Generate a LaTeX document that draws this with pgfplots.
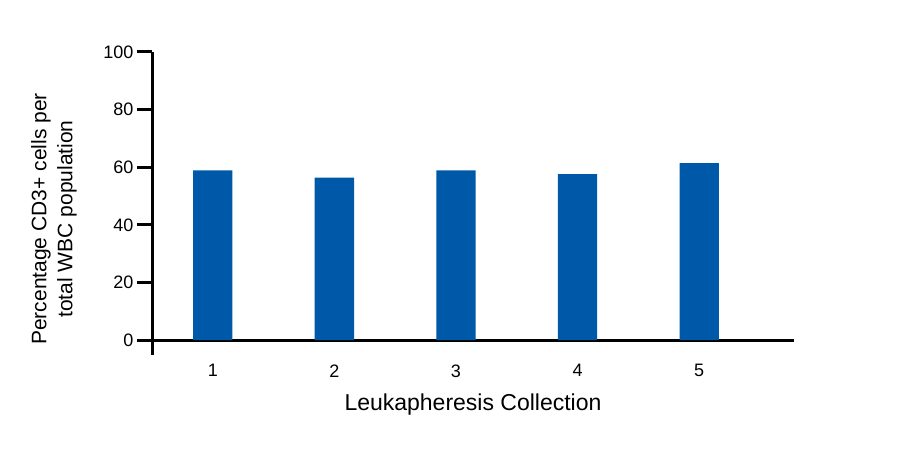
\documentclass[border=0pt]{standalone}
\usepackage{fontspec}
\setmainfont{Liberation Sans}
\usepackage{pgfplots}
\pgfplotsset{compat=1.18}
\definecolor{barblue}{HTML}{0059A8}
\begin{document}
\begin{tikzpicture}
\path[use as bounding box] (0,0) rectangle (900pt,450pt);
\begin{axis}[
  at={(152pt,95pt)}, anchor=south west,
  scale only axis, width=642pt, height=303pt,
  xmin=0.5, xmax=5.78, ymin=-5.2, ymax=100,
  axis x line=middle, axis y line=left,
  axis line style={line width=3pt, -, black},
  xtick={1,2,3,4,5}, ytick={0,20,...,100},
  x tick style={draw=none},
  y tick style={line width=3pt, black},
  major tick length=15pt,
  ytick align=outside,
  xtick align=outside,
  /pgf/number format/assume math mode=true,
  ticklabel style={font=\fontsize{18}{21}\selectfont},
  xticklabel style={yshift=-6pt},
  xlabel={Leukapheresis Collection},
  xlabel style={font=\fontsize{23}{27}\selectfont, at={(axis description cs:0.5,0)}, anchor=center, yshift=-50pt},
  ylabel={Percentage CD3+ cells per\\total WBC population},
  ylabel style={font=\fontsize{21}{26}\selectfont, align=center, at={(axis description cs:-0.1527,0.449)}, anchor=center},
  clip=false,
  ybar, bar width=39.3pt,
]
\addplot[fill=barblue, draw=none] coordinates {(1,58.9) (2,56.4) (3,58.9) (4,57.6) (5,61.4)};
\end{axis}
\end{tikzpicture}
\end{document}
